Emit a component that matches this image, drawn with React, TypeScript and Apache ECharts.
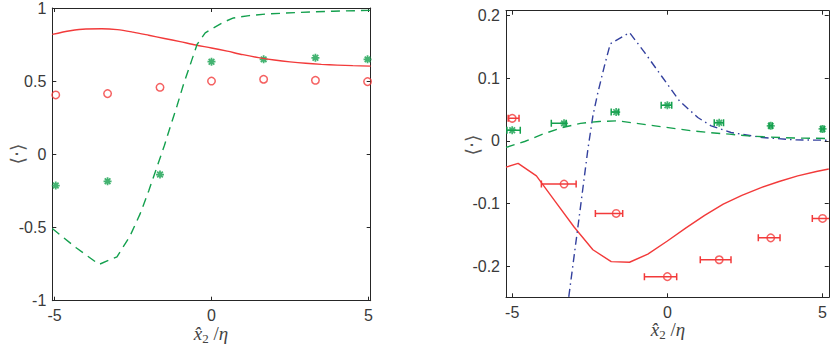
import React, { useEffect, useRef } from 'react';
import * as echarts from 'echarts';

// ---------- Left panel data ----------
const L_LINE_RED_X = [-5.07, -4.5, -4, -3.5, -3, -2.5, -2, -1.5, -1, -0.5, 0, 0.5, 1, 1.5, 2, 2.5, 3, 3.5, 4, 4.5, 5.07];
const L_LINE_RED_Y = [0.82, 0.845, 0.857, 0.858, 0.852, 0.835, 0.814, 0.792, 0.77, 0.747, 0.727, 0.705, 0.681, 0.661, 0.645, 0.632, 0.622, 0.615, 0.61, 0.606, 0.603];

const L_LINE_GREEN_X = [-5.07, -4.3, -3.58, -3.01, -2.6, -2.27, -2.0, -1.74, -1.5, -1.32, -1.1, -0.89, -0.65, -0.46, -0.2, 0.06, 0.4, 0.7, 1.2, 1.76, 2.8, 3.88, 5.07];
const L_LINE_GREEN_Y = [-0.507, -0.64, -0.752, -0.7, -0.56, -0.405, -0.25, -0.088, 0.06, 0.184, 0.33, 0.479, 0.63, 0.751, 0.83, 0.864, 0.905, 0.932, 0.948, 0.959, 0.97, 0.978, 0.984];

const L_PTS_X = [-4.96, -3.31, -1.64, 0, 1.66, 3.31, 4.97];
const L_CIRCLE_Y = [0.406, 0.415, 0.458, 0.501, 0.513, 0.506, 0.497];
const L_STAR_Y = [-0.213, -0.184, -0.138, 0.633, 0.649, 0.66, 0.649];

// ---------- Right panel data ----------
const R_LINE_RED_X = [-5.2, -4.81, -4.22, -3.61, -3.0, -2.4, -1.81, -1.22, -0.63, 0, 0.6, 1.2, 1.8, 2.4, 3.0, 3.6, 4.2, 4.8, 5.2];
const R_LINE_RED_Y = [-0.042, -0.036, -0.056, -0.097, -0.138, -0.174, -0.193, -0.194, -0.181, -0.16, -0.139, -0.119, -0.101, -0.087, -0.075, -0.065, -0.056, -0.049, -0.045];

const R_LINE_BLUE_X = [-3.25, -2.85, -2.56, -2.4, -2.24, -2.03, -1.84, -1.22, -0.73, -0.19, 0.39, 0.98, 1.41, 2.05, 3.06, 4.14, 5.2];
const R_LINE_BLUE_Y = [-0.277, -0.125, -0.013, 0.04, 0.077, 0.1195, 0.155, 0.173, 0.141, 0.1036, 0.0637, 0.0373, 0.024, 0.0134, 0.0054, 0.0015, 0.001];

const R_LINE_GREEN_X = [-5.2, -4.6, -4.0, -3.4, -2.8, -2.2, -1.6, -1.0, -0.4, 0.2, 0.8, 1.4, 2.0, 2.6, 3.2, 3.8, 4.4, 5.2];
const R_LINE_GREEN_Y = [-0.0105, -0.001, 0.011, 0.021, 0.028, 0.031, 0.032, 0.028, 0.024, 0.02, 0.016, 0.013, 0.0107, 0.008, 0.0062, 0.005, 0.0043, 0.0038];

const R_PTS_X = [-5, -3.33, -1.65, 0, 1.67, 3.33, 5];
const R_CIRCLE_Y = [0.036, -0.069, -0.116, -0.217, -0.19, -0.155, -0.124];
const R_CIRCLE_XLO = [-5.13, -4.06, -2.32, -0.74, 1.06, 2.93, 4.67];
const R_CIRCLE_XHI = [-4.78, -2.94, -1.44, 0.3, 2.05, 3.63, 5.3];
const R_STAR_Y = [0.017, 0.028, 0.046, 0.057, 0.029, 0.024, 0.019];
const R_STAR_XLO = [-5.17, -3.74, -1.81, -0.2, 1.51, 3.28, 4.95];
const R_STAR_XHI = [-4.74, -3.26, -1.57, 0.14, 1.81, 3.38, 5.05];

// ---------- Ticks ----------
const X_TICKS = [-5, 0, 5];
const L_Y_TICKS = [-1, -0.5, 0, 0.5, 1];
const R_Y_TICKS = [-0.2, -0.1, 0, 0.1, 0.2];

const RED = '#f23a3a';
const GREEN = '#14a04e';
const BLUE = '#33409e';
const AXIS_COLOR = '#262626';
const LABEL_COLOR = '#3a3a3a';
const FONT = "'Liberation Sans', Arial, Helvetica, sans-serif";

const ASTERISK =
  'path://M-5,-1.1L5,-1.1L5,1.1L-5,1.1Z M1.1,-5L1.1,5L-1.1,5L-1.1,-5Z M4.31,2.76L2.76,4.31L-4.31,-2.76L-2.76,-4.31Z M2.76,-4.31L4.31,-2.76L-2.76,4.31L-4.31,2.76Z';

const zip = (xs: number[], ys: number[]) => xs.map((x, i) => [x, ys[i]]);
const zip4 = (xs: number[], ys: number[], lo: number[], hi: number[]) => xs.map((x, i) => [x, ys[i], lo[i], hi[i]]);

function makeX(gridIndex: number, min: number, max: number, position: 'top' | 'bottom', labels: boolean) {
  return {
    type: 'value', gridIndex, min, max, position,
    axisLine: { show: true, onZero: false, lineStyle: { color: AXIS_COLOR, width: 1 } },
    axisTick: { show: true, inside: true, length: 4, customValues: X_TICKS, lineStyle: { color: AXIS_COLOR } },
    axisLabel: { show: labels, customValues: X_TICKS, margin: 7, fontSize: 16, color: LABEL_COLOR, fontFamily: FONT },
    splitLine: { show: false },
  };
}

function makeY(gridIndex: number, min: number, max: number, position: 'left' | 'right', labels: boolean, ticks: number[]) {
  return {
    type: 'value', gridIndex, min, max, position,
    axisLine: { show: true, onZero: false, lineStyle: { color: AXIS_COLOR, width: 1 } },
    axisTick: { show: true, inside: true, length: 4, customValues: ticks, lineStyle: { color: AXIS_COLOR } },
    axisLabel: { show: labels, customValues: ticks, margin: 6, fontSize: 16, color: LABEL_COLOR, fontFamily: FONT, formatter: (v: number) => String(Math.round(v * 1000) / 1000) },
    splitLine: { show: false },
  };
}

function errorBars(color: string, data: number[][]) {
  return {
    type: 'custom', xAxisIndex: 2, yAxisIndex: 2, clip: true, silent: true,
    data,
    encode: { x: [0, 2, 3], y: 1 },
    renderItem: (_params: any, api: any) => {
      const y = api.value(1);
      const p1 = api.coord([api.value(2), y]);
      const p2 = api.coord([api.value(3), y]);
      const h = 3.5;
      const style = { stroke: color, lineWidth: 1.5 };
      return {
        type: 'group',
        children: [
          { type: 'line', shape: { x1: p1[0], y1: p1[1], x2: p2[0], y2: p2[1] }, style },
          { type: 'line', shape: { x1: p1[0], y1: p1[1] - h, x2: p1[0], y2: p1[1] + h }, style },
          { type: 'line', shape: { x1: p2[0], y1: p2[1] - h, x2: p2[0], y2: p2[1] + h }, style },
        ],
      };
    },
  };
}

const SERIF = "'Liberation Serif', 'DejaVu Serif', serif";
const xNameRich = {
  i: { fontFamily: SERIF, fontStyle: 'italic', fontSize: 19, fill: '#444' },
  s: { fontFamily: SERIF, fontSize: 13, fill: '#444', padding: [10, 0, 0, 0] },
  n: { fontFamily: SERIF, fontSize: 19, fill: '#444' },
};
const X_NAME = '{i|x\u0302}{s|2}{n| /}{i|η}';

export default function App() {
  const ref = useRef<HTMLDivElement>(null);
  useEffect(() => {
    if (!ref.current) return;
    const chart = echarts.init(ref.current, null, { renderer: 'svg' });
    const option: any = {
      animation: false,
      backgroundColor: '#ffffff',
      grid: [
        { left: 52.3, top: 6.7, width: 318.4, height: 294 },
        { left: 506, top: 10.7, width: 323.7, height: 286.6 },
      ],
      xAxis: [
        makeX(0, -5.07, 5.07, 'bottom', true),
        makeX(0, -5.07, 5.07, 'top', false),
        makeX(1, -5.2, 5.2, 'bottom', true),
        makeX(1, -5.2, 5.2, 'top', false),
      ],
      yAxis: [
        makeY(0, -1, 1, 'left', true, L_Y_TICKS),
        makeY(0, -1, 1, 'right', false, L_Y_TICKS),
        makeY(1, -0.25, 0.208, 'left', true, R_Y_TICKS),
        makeY(1, -0.25, 0.208, 'right', false, R_Y_TICKS),
      ],
      graphic: [
        { type: 'text', x: 211, y: 333, style: { text: X_NAME, rich: xNameRich, align: 'center', verticalAlign: 'middle' } },
        { type: 'text', x: 668, y: 329, style: { text: X_NAME, rich: xNameRich, align: 'center', verticalAlign: 'middle' } },
        { type: 'text', x: 17, y: 154, rotation: Math.PI / 2, style: { text: '⟨·⟩', font: "19px 'DejaVu Sans'", fill: '#555', align: 'center', verticalAlign: 'middle' } },
        { type: 'text', x: 472, y: 145, rotation: Math.PI / 2, style: { text: '⟨·⟩', font: "19px 'DejaVu Sans'", fill: '#555', align: 'center', verticalAlign: 'middle' } },
      ],
      series: [
        // Left panel
        { type: 'line', xAxisIndex: 0, yAxisIndex: 0, data: zip(L_LINE_RED_X, L_LINE_RED_Y), smooth: 0.3, showSymbol: false, lineStyle: { color: RED, width: 1.4 } },
        { type: 'line', xAxisIndex: 0, yAxisIndex: 0, data: zip(L_LINE_GREEN_X, L_LINE_GREEN_Y), showSymbol: false, lineStyle: { color: GREEN, width: 1.4, type: [9, 6] } },
        { type: 'scatter', xAxisIndex: 0, yAxisIndex: 0, data: zip(L_PTS_X, L_CIRCLE_Y), symbol: 'circle', symbolSize: 7.5, itemStyle: { color: 'transparent', borderColor: RED, borderWidth: 1.5 } },
        { type: 'scatter', xAxisIndex: 0, yAxisIndex: 0, data: zip(L_PTS_X, L_STAR_Y), symbol: ASTERISK, symbolSize: 8, itemStyle: { color: GREEN } },
        // Right panel
        { type: 'line', xAxisIndex: 2, yAxisIndex: 2, data: zip(R_LINE_RED_X, R_LINE_RED_Y), showSymbol: false, clip: true, lineStyle: { color: RED, width: 1.4 } },
        { type: 'line', xAxisIndex: 2, yAxisIndex: 2, data: zip(R_LINE_BLUE_X, R_LINE_BLUE_Y), showSymbol: false, clip: true, lineStyle: { color: BLUE, width: 1.4, type: [8, 4, 1.5, 4] } },
        { type: 'line', xAxisIndex: 2, yAxisIndex: 2, data: zip(R_LINE_GREEN_X, R_LINE_GREEN_Y), showSymbol: false, clip: true, lineStyle: { color: GREEN, width: 1.4, type: [9, 6] } },
        errorBars(RED, zip4(R_PTS_X, R_CIRCLE_Y, R_CIRCLE_XLO, R_CIRCLE_XHI)),
        errorBars(GREEN, zip4(R_PTS_X, R_STAR_Y, R_STAR_XLO, R_STAR_XHI)),
        { type: 'scatter', xAxisIndex: 2, yAxisIndex: 2, data: zip(R_PTS_X, R_CIRCLE_Y), symbol: 'circle', symbolSize: 7.5, clip: true, itemStyle: { color: 'transparent', borderColor: RED, borderWidth: 1.5 } },
        { type: 'scatter', xAxisIndex: 2, yAxisIndex: 2, data: zip(R_PTS_X, R_STAR_Y), symbol: ASTERISK, symbolSize: 8, clip: true, itemStyle: { color: GREEN } },
      ],
    };
    chart.setOption(option);
    return () => chart.dispose();
  }, []);
  return <div ref={ref} style={{ position: 'fixed', left: 0, top: 0, width: 830, height: 345, background: '#fff' }} />;
}
